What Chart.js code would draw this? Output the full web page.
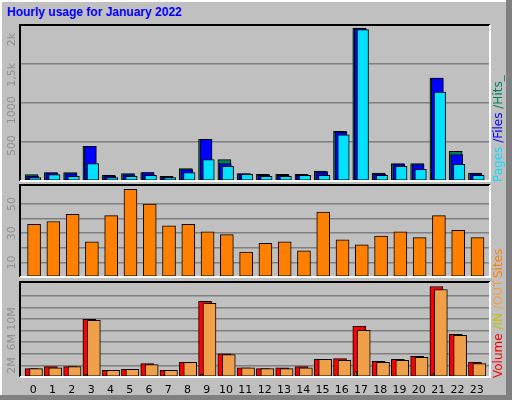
<!DOCTYPE html>
<html><head><meta charset="utf-8">
<script src="https://cdn.jsdelivr.net/npm/chart.js@4"></script>
<style>
body{margin:0;background:#c0c0c0;}
#wrap{position:relative;width:512px;height:400px;background:#c0c0c0;overflow:hidden;}
#frameR{position:absolute;right:0;top:0;width:6px;height:400px;background:#808080;}
#frameB{position:absolute;left:0;bottom:0;width:512px;height:5px;background:#808080;}
#frameL{position:absolute;left:0;top:0;width:2px;height:400px;background:#fff;}
#frameT{position:absolute;left:0;top:0;width:512px;height:2px;background:#fff;}
canvas{position:absolute;left:0;}
#title{position:absolute;left:7px;top:5px;font:bold 12px "Liberation Sans",Arial,sans-serif;color:#0000ff;}
.rl{position:absolute;font:12px "DejaVu Sans",sans-serif;transform-origin:0 0;transform:rotate(-90deg);white-space:nowrap;}
</style></head><body>
<div id="wrap">
<div id="frameT"></div><div id="frameL"></div><div id="frameR"></div><div id="frameB"></div>
<div id="title">Hourly usage for January 2022</div>
<canvas id="c1" width="512" height="165" style="top:20px"></canvas>
<canvas id="c2" width="512" height="100" style="top:180px"></canvas>
<canvas id="c3" width="512" height="120" style="top:280px"></canvas>
<div class="rl" style="left:491px;top:182px"><span style="color:#00e0ff">Pages</span><span style="color:#0000ff"> /Files</span><span style="color:#00805c"> /Hits_</span></div>
<div class="rl" style="left:491px;top:278px"><span style="color:#ff8000">Sites</span></div>
<div class="rl" style="left:491px;top:378px"><span style="color:#ff0000">Volume</span><span style="color:#c0c000"> /IN</span><span style="color:#f0a048"> /OUT</span></div>
</div>
<script>
const hours=[0,1,2,3,4,5,6,7,8,9,10,11,12,13,14,15,16,17,18,19,20,21,22,23];
const hits =[90,120,119,491,80,105,119,66,175,590,303,105,95,95,95,141,703,2162,113,246,246,1454,420,113];
const files=[70,115,105,491,70,90,119,56,160,590,246,100,80,80,80,127,690,2155,100,235,232,1454,374,105];
const pages=[50,90,66,246,50,66,80,50,119,303,208,95,66,66,80,80,651,2140,80,208,165,1256,236,80];
const sites=[36,38,43,24,42,60,50,35,36,31,29,17,23,24,18,44.5,25.5,22,28,31,27,42,32,27];
const volume=[1.44,1.78,1.78,9.94,1.15,1.32,2.3,1.15,2.53,13.05,4.02,1.6,1.44,1.6,1.78,3.05,3.16,8.74,2.7,3.05,3.56,15.63,7.36,2.53];
const outv=[1.44,1.6,1.78,9.77,1.15,1.32,2.13,1.15,2.53,12.7,3.85,1.6,1.44,1.44,1.6,3.05,2.87,8.05,2.53,2.87,3.39,15.11,7.18,2.3];
const inv=[0,0,0,0.4,0,0,0,0,0,0.5,0,0,0,0,0,0,0.3,0.95,0,0,0,0.6,0.3,0];
const topTicks={500:"500",1000:"1000",1500:"1,5k",2000:"2k"};
const midTicks={10:"10",30:"30",50:"50"};
const botTicks={2:"2M",6:"6M",10:"10M"};

const pts=(arr,off)=>arr.map((v,i)=>({x:hours[i]+off,y:v}));
const ds=(arr,off,color,w)=>({data:pts(arr,off),backgroundColor:color,borderColor:'#000',borderWidth:1,barThickness:w,borderSkipped:false,grouped:false});

function deco(labels,showX){
 return {id:'deco',
  afterDraw(c){
   const x=c.ctx,a=c.chartArea,y=c.scales.y;
   x.save();
   x.strokeStyle='#000';x.lineWidth=2;
   x.beginPath();x.moveTo(a.left,a.bottom);x.lineTo(a.left,a.top);x.lineTo(a.right,a.top);x.stroke();
   x.strokeStyle='#fff';
   x.beginPath();x.moveTo(a.right,a.top);x.lineTo(a.right,a.bottom);x.lineTo(a.left,a.bottom);x.stroke();
   x.fillStyle='#909090';x.font='11px "DejaVu Sans",sans-serif';x.textAlign='center';x.textBaseline='middle';
   for(const k in labels){const py=y.getPixelForValue(+k);x.save();x.translate(12,py);x.rotate(-Math.PI/2);x.fillText(labels[k],0,0);x.restore();}
   if(showX){x.fillStyle='#000';x.font='11px "DejaVu Sans",sans-serif';x.textBaseline='top';
     hours.forEach(h=>x.fillText(String(h),c.scales.x.getPixelForValue(h),a.bottom+8));}
   x.restore();
  }};
}
function opts(max,step,pad){
 return {responsive:false,animation:false,layout:{padding:pad},
  plugins:{legend:{display:false},tooltip:{enabled:false}},
  scales:{x:{type:'linear',min:-0.69,max:23.69,offset:false,display:false},
   y:{min:0,max:max,display:true,ticks:{display:false,stepSize:step},border:{display:false},
      grid:{color:'#808080',lineWidth:1.5,drawTicks:false}}}};
}
new Chart(document.getElementById('c1'),{type:'bar',
 data:{datasets:[ds(pages,0.09,'#00e0ff',11.5),ds(files,-0.04,'#0000ff',12),ds(hits,-0.09,'#00805c',13)]},
 options:opts(2205,500,{left:20,right:22,top:5,bottom:4}),plugins:[deco(topTicks,false)]});
new Chart(document.getElementById('c2'),{type:'bar',
 data:{datasets:[ds(sites,0.04,'#ff8000',13)]},
 options:opts(63,10,{left:20,right:22,top:5,bottom:3}),plugins:[deco(midTicks,false)]});
new Chart(document.getElementById('c3'),{type:'bar',
 data:{datasets:[ds(inv,-0.27,'#c0ff00',2),ds(outv,0.14,'#f0a048',13),ds(volume,-0.09,'#ff0000',13)]},
 options:opts(16.4,2,{left:20,right:22,top:2,bottom:23}),plugins:[deco(botTicks,true)]});
</script></body></html>
